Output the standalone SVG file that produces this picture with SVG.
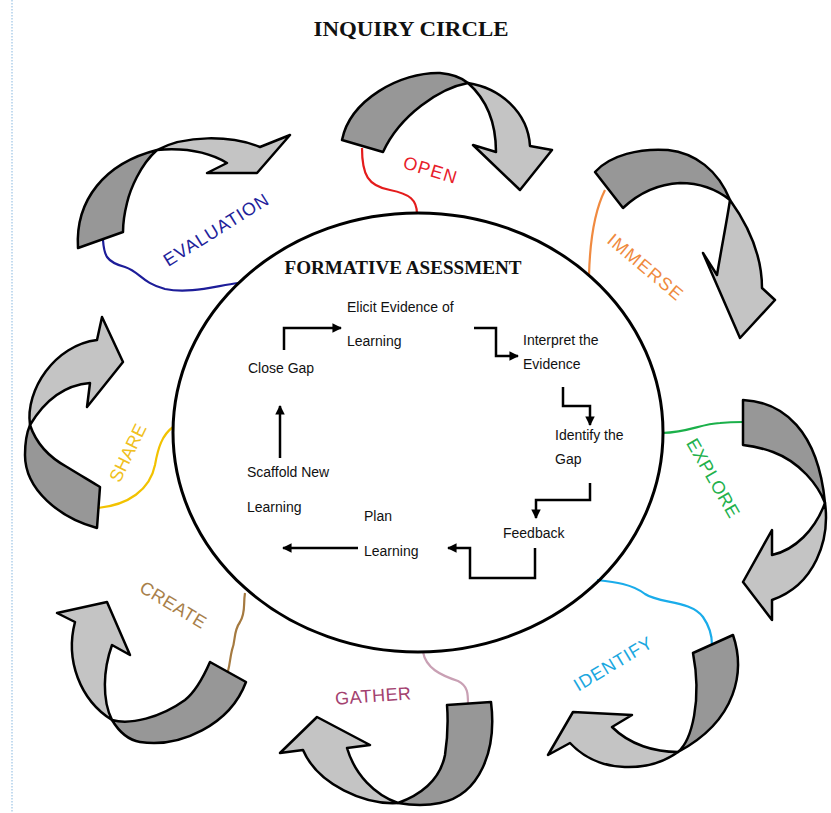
<svg xmlns="http://www.w3.org/2000/svg" width="831" height="813" viewBox="0 0 831 813">
<style>
.dk{fill:#979797;stroke:#000;stroke-width:2.5;stroke-linejoin:round}
.lt{fill:#c4c4c4;stroke:#000;stroke-width:2.5;stroke-linejoin:round}
.lbl{font-family:"Liberation Sans",Arial,sans-serif;font-size:18px;text-anchor:middle}
.in{font-family:"Liberation Sans",Arial,sans-serif;font-size:14px;fill:#111}
.ar{fill:none;stroke:#000;stroke-width:2.5}
.wv{fill:none;stroke-width:2.2}
.ttl{font-family:"Liberation Serif","Times New Roman",serif;font-weight:bold;fill:#111}
</style>
<defs>
<marker id="ah" viewBox="0 0 10 10" refX="9" refY="5" markerWidth="3.8" markerHeight="3.8" orient="auto" markerUnits="strokeWidth">
<path d="M0,0 L10,5 L0,10 Z" fill="#000"/>
</marker>
</defs>
<rect width="831" height="813" fill="#fff"/>
<line x1="12" y1="0" x2="12" y2="813" stroke="#9cc3e5" stroke-width="1.2" stroke-dasharray="1.5,1.5"/>
<text class="ttl" x="411" y="36" font-size="20" text-anchor="middle" textLength="195" lengthAdjust="spacingAndGlyphs">INQUIRY CIRCLE</text>

<g id="connectors">
<path class="wv" stroke="#e41c1c" d="M362,148 C362,175 368,186 390,190 C410,194 417,200 417,214"/>
<path class="wv" stroke="#f08a40" d="M605,190 C596,208 590,235 589,276"/>
<path class="wv" stroke="#1bb04a" d="M662,433 C690,432 700,424 720,423 C730,422 736,422 743,422"/>
<path class="wv" stroke="#1aacea" d="M597,580 C615,582 632,584 645,594 C660,604 690,600 703,617 C710,627 712,635 712,645"/>
<path class="wv" stroke="#c9a0b4" d="M423,652 C426,668 440,675 458,681 C468,686 468,694 468,704"/>
<path class="wv" stroke="#a57a40" d="M245,593 C243,605 246,612 240,622 C233,632 236,640 232,650 C230,658 230,664 228,671"/>
<path class="wv" stroke="#f2c200" d="M173,427 C162,435 158,448 155,465 C150,490 128,505 98,508"/>
<path class="wv" stroke="#1d1d99" d="M103,240 C104,255 106,262 125,267 C140,272 142,283 165,289 C190,294 215,286 238,283"/>
<path class="ar" marker-end="url(#ah)" d="M284,350 L284,328 L341,328"/>
<path class="ar" marker-end="url(#ah)" d="M474,328 L496,328 L496,356 L518,356"/>
<path class="ar" marker-end="url(#ah)" d="M563,387 L563,406 L590,406 L590,425"/>
<path class="ar" marker-end="url(#ah)" d="M590,483 L590,500 L536,500 L536,518"/>
<path class="ar" marker-end="url(#ah)" d="M535,548 L535,578 L470,578 L470,548 L448,548"/>
<path class="ar" marker-end="url(#ah)" d="M358,548 L283,548"/>
<path class="ar" marker-end="url(#ah)" d="M280,458 L280,406"/>
</g>

<g id="formative">
<ellipse cx="418" cy="432.5" rx="245" ry="219.5" fill="none" stroke="#000" stroke-width="3"/>
<text class="ttl" x="403" y="274" font-size="19" text-anchor="middle" textLength="237" lengthAdjust="spacingAndGlyphs">FORMATIVE ASESSMENT</text>
</g>
<g id="elicit"><text class="in" x="347" y="312">Elicit Evidence of</text><text class="in" x="347" y="346">Learning</text></g>
<g id="interpret"><text class="in" x="523" y="345">Interpret the</text><text class="in" x="523" y="369">Evidence</text></g>
<g id="identify-gap"><text class="in" x="555" y="440">Identify the</text><text class="in" x="555" y="464">Gap</text></g>
<g id="feedback"><text class="in" x="503" y="538">Feedback</text></g>
<g id="plan"><text class="in" x="364" y="521">Plan</text><text class="in" x="364" y="556">Learning</text></g>
<g id="scaffold"><text class="in" x="247" y="477">Scaffold New</text><text class="in" x="247" y="512">Learning</text></g>
<g id="close-gap"><text class="in" x="248" y="373">Close Gap</text></g>

<g id="open">
<path class="dk" d="M342,140 C350,100 400,72 440,73 C452,74 462,78 468,83 C440,88 400,115 383,152 Z"/>
<path class="lt" d="M468,83 C500,88 528,112 530,146 L552,150 L520,190 L473,145 L496,152 C496,120 485,98 468,83 Z"/>
<text class="lbl" fill="#e8202a" font-size="19" transform="translate(430,170) rotate(17)" y="6" textLength="55" lengthAdjust="spacing">OPEN</text>
</g>
<g id="immerse">
<path class="dk" d="M595,172 C610,155 640,148 668,150 C695,153 718,170 730,200 C715,188 700,183 680,183 C660,184 640,192 623,208 Z"/>
<path class="lt" d="M730,200 C748,225 762,255 762,288 L775,300 L740,338 L703,253 L717,275 C722,245 727,220 730,200 Z"/>
<text class="lbl" fill="#ef8a3e" transform="translate(645,267) rotate(40)" y="6" textLength="92" lengthAdjust="spacing">IMMERSE</text>
</g>
<g id="explore">
<path class="dk" d="M743,400 C783,402 818,430 825,503 C818,485 800,462 773,452 C762,448 752,446 743,445 Z"/>
<path class="lt" d="M825,503 C830,540 815,585 772,600 L772,620 L743,582 L772,530 L772,555 C795,550 815,530 825,503 Z"/>
<text class="lbl" fill="#22b14c" transform="translate(713,478) rotate(60)" y="6" textLength="88" lengthAdjust="spacing">EXPLORE</text>
</g>
<g id="identify">
<path class="dk" d="M733,635 C745,670 738,720 678,752 C692,740 702,700 693,653 Z"/>
<path class="lt" d="M678,752 C650,772 600,775 570,743 L548,755 L573,712 L632,715 L612,727 C630,745 655,752 678,752 Z"/>
<text class="lbl" fill="#1aa7e0" transform="translate(613,664) rotate(-31)" y="6" textLength="88" lengthAdjust="spacing">IDENTIFY</text>
</g>
<g id="gather">
<path class="dk" d="M491,702 C497,750 480,795 440,803 C425,806 410,805 398,803 C420,795 440,780 445,755 C448,735 448,718 447,705 Z"/>
<path class="lt" d="M398,803 C365,805 318,785 303,750 L280,753 L317,717 L370,745 L347,748 C355,775 375,795 398,803 Z"/>
<text class="lbl" fill="#a3416f" transform="translate(373,696) rotate(-4)" y="6" textLength="76" lengthAdjust="spacing">GATHER</text>
</g>
<g id="create">
<path class="dk" d="M246,682 C230,725 180,748 140,742 C128,740 118,730 112,720 C130,725 160,718 185,700 C195,692 203,678 210,662 Z"/>
<path class="lt" d="M112,720 C80,700 65,660 75,622 L57,613 L107,602 L130,655 L112,645 C103,670 102,700 112,720 Z"/>
<text class="lbl" fill="#a87f4a" transform="translate(173,605) rotate(31)" y="6" textLength="74" lengthAdjust="spacing">CREATE</text>
</g>
<g id="share">
<path class="dk" d="M97,528 C60,518 25,490 25,455 C25,440 27,432 30,425 C35,440 45,455 67,467 C80,475 92,482 100,487 Z"/>
<path class="lt" d="M30,425 C25,390 55,345 97,340 L102,317 L123,362 L87,407 L90,383 C65,385 45,400 30,425 Z"/>
<text class="lbl" fill="#f0c020" transform="translate(128,453) rotate(-64)" y="6" textLength="62" lengthAdjust="spacing">SHARE</text>
</g>
<g id="evaluation">
<path class="dk" d="M78,248 C75,200 105,163 157,150 C140,165 130,190 127,203 C124,215 123,225 123,232 Z"/>
<path class="lt" d="M157,150 C185,135 230,135 260,147 L290,135 L257,173 L207,173 L227,163 C205,150 180,148 157,150 Z"/>
<text class="lbl" fill="#22229a" transform="translate(216,230) rotate(-32)" y="6" textLength="120" lengthAdjust="spacing">EVALUATION</text>
</g>
</svg>
